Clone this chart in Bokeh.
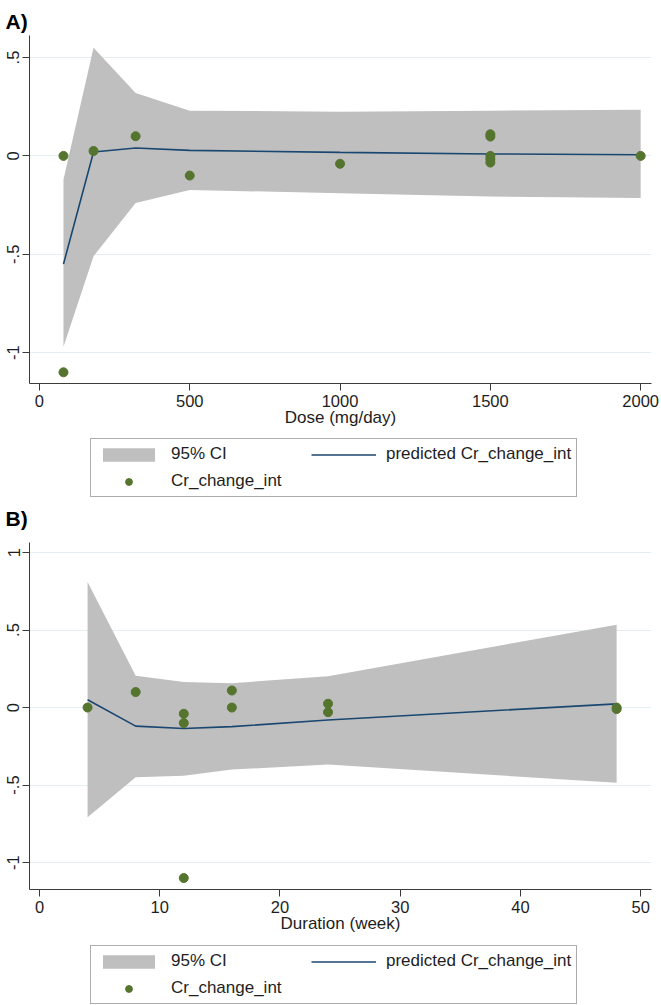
from bokeh.plotting import figure
from bokeh.layouts import column
from bokeh.models import (Legend, LegendItem, FixedTicker, Range1d, Label,
                          CustomJSTickFormatter)
from bokeh.embed import file_html
from bokeh.resources import INLINE

# ---- Panel A: creatinine change vs dose ----
dose_fit = [80, 180, 320, 500, 1000, 1500, 2000]
dose_pred = [-0.55, 0.02, 0.04, 0.028, 0.018, 0.01, 0.006]
dose_ci_lo = [-0.97, -0.51, -0.24, -0.173, -0.19, -0.207, -0.214]
dose_ci_hi = [-0.12, 0.55, 0.32, 0.23, 0.225, 0.23, 0.234]
dose_obs = [80, 80, 180, 320, 500, 1000, 1500, 1500, 1500, 1500, 1500, 2000]
dose_cr = [0, -1.1, 0.025, 0.1, -0.1, -0.04, 0.11, 0.098, 0, -0.017, -0.034, 0]
dose_xticks = [0, 500, 1000, 1500, 2000]
dose_yticks = [-1, -0.5, 0, 0.5]

# ---- Panel B: creatinine change vs duration ----
dur_fit = [4, 8, 12, 16, 24, 48]
dur_pred = [0.05, -0.12, -0.135, -0.123, -0.08, 0.024]
dur_ci_lo = [-0.708, -0.45, -0.44, -0.40, -0.368, -0.486]
dur_ci_hi = [0.81, 0.205, 0.165, 0.157, 0.202, 0.535]
dur_obs = [4, 8, 12, 12, 12, 16, 16, 24, 24, 48, 48]
dur_cr = [0, 0.1, -0.04, -0.1, -1.1, 0.11, 0, 0.025, -0.03, 0, -0.01]
dur_xticks = [0, 10, 20, 30, 40, 50]
dur_yticks = [-1, -0.5, 0, 0.5, 1]

legend_labels = ["95% CI", "predicted Cr_change_int", "Cr_change_int"]
panel_tags = ["A)", "B)"]

FONT = "Liberation Sans"
BAND = "#bfbfbf"
LINE = "#1a476f"
DOT = "#55752f"
GRID = "#e4edf1"
AXIS = "#3a3a3a"
TEXT = "#1e1e1e"
W = 661

stata_fmt = CustomJSTickFormatter(code="return String(tick).replace('0.', '.');")


def draw_fit(fig, xf, pred, lo, hi, xo, yo, **kw):
    band = fig.varea(x=xf, y1=lo, y2=hi, fill_color=BAND, fill_alpha=1, **kw)
    ln = fig.line(x=xf, y=pred, line_color=LINE, line_width=1.6, **kw)
    pts = fig.scatter(x=xo, y=yo, size=9, fill_color=DOT, line_color=DOT, **kw)
    return band, ln, pts


def panel(data, xr, yr, xticks, yticks, xlabel, height, bottom):
    p = figure(width=W, height=height, x_range=Range1d(*xr), y_range=Range1d(*yr),
               output_backend="svg", toolbar_location=None,
               min_border_left=29, min_border_right=10,
               min_border_top=0, min_border_bottom=bottom)
    p.outline_line_color = None
    p.background_fill_color = "white"
    draw_fit(p, *data)

    p.xaxis.ticker = FixedTicker(ticks=xticks)
    p.yaxis.ticker = FixedTicker(ticks=yticks)
    p.yaxis.formatter = stata_fmt
    p.yaxis.major_label_orientation = "vertical"
    for ax in p.axis:
        ax.minor_tick_line_color = None
        ax.major_tick_out = 7
        ax.major_tick_in = 0
        ax.axis_line_color = AXIS
        ax.major_tick_line_color = AXIS
        ax.major_label_text_font = FONT
        ax.major_label_text_font_size = "16.5px"
        ax.major_label_text_color = TEXT
        ax.major_label_standoff = 3
    p.xaxis.major_label_standoff = 4
    p.xaxis.axis_label = xlabel
    p.xaxis.axis_label_text_font = FONT
    p.xaxis.axis_label_text_font_size = "17px"
    p.xaxis.axis_label_text_font_style = "normal"
    p.xaxis.axis_label_text_color = TEXT
    p.xaxis.axis_label_standoff = -2
    p.xgrid.visible = False
    p.ygrid.grid_line_color = GRID
    p.ygrid.grid_line_width = 1
    return p


def strip(height):
    # Blank band between panels, its frame covering the whole strip
    s = figure(width=W, height=height, x_range=Range1d(0, 1), y_range=Range1d(0, 1),
               x_axis_type=None, y_axis_type=None, output_backend="svg",
               toolbar_location=None, min_border_left=0, min_border_right=0,
               min_border_top=0, min_border_bottom=0, frame_align=False)
    s.outline_line_color = None
    return s


def add_tag(s, text, baseline_from_top):
    s.add_layout(Label(x=5, y=s.height - baseline_from_top, x_units="screen",
                       y_units="screen", text=text, text_font=FONT,
                       text_font_size="21px", text_font_style="bold",
                       text_color="black", text_baseline="alphabetic"))


def add_key(s, data, top_gap):
    # Key for the panel above; the sample renderers themselves stay hidden
    band, ln, pts = draw_fit(s, *data, visible=False)
    box_h = 57
    legend = Legend(
        items=[LegendItem(label=legend_labels[0], renderers=[band]),
               LegendItem(label=legend_labels[1], renderers=[ln]),
               LegendItem(label=legend_labels[2], renderers=[pts])],
        location=(90, s.height - top_gap - box_h), orientation="horizontal", ncols=2,
        glyph_width=65, glyph_height=17, label_standoff=10, label_width=133,
        label_height=20, spacing=7, padding=5, margin=0,
        border_line_color="#5a5a5a", border_line_width=1,
        background_fill_color="white", background_fill_alpha=1,
        inactive_fill_alpha=0,
        label_text_font=FONT, label_text_font_size="17px",
        label_text_color=TEXT)
    s.add_layout(legend)


dose_data = (dose_fit, dose_pred, dose_ci_lo, dose_ci_hi, dose_obs, dose_cr)
dur_data = (dur_fit, dur_pred, dur_ci_lo, dur_ci_hi, dur_obs, dur_cr)

head = strip(35)
add_tag(head, panel_tags[0], 21)

pa = panel(dose_data, (-33, 2036), (-1.157, 0.612), dose_xticks, dose_yticks,
           "Dose (mg/day)", 398, 50)

mid = strip(109)
add_key(mid, dose_data, 7)
add_tag(mid, panel_tags[1], 85)

pb = panel(dur_data, (-0.83, 50.9), (-1.174, 1.065), dur_xticks, dur_yticks,
           "Duration (week)", 398, 51)

foot = strip(65)
add_key(foot, dur_data, 7)

layout = column(head, pa, mid, pb, foot, spacing=0)
open("out.html", "w").write(file_html(layout, INLINE))
